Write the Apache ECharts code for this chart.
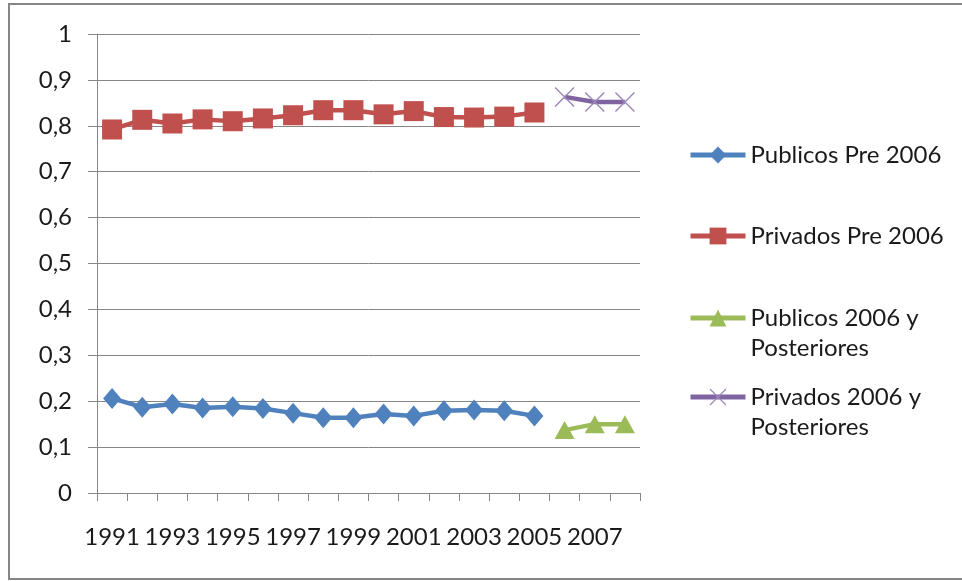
<!DOCTYPE html>
<html>
<head>
<meta charset="utf-8">
<style>
  html, body { margin: 0; padding: 0; background: #ffffff; }
  #chart { width: 962px; height: 581px; }
</style>
<script src="https://cdn.jsdelivr.net/npm/echarts@6/dist/echarts.min.js"></script>
</head>
<body>
<div id="chart"></div>
<script>
// Years on the category axis
const years = ['1991','1992','1993','1994','1995','1996','1997','1998','1999',
               '2000','2001','2002','2003','2004','2005','2006','2007','2008'];

// Share of public and private, before 2006 (1991–2005)
const publicosPre = [0.206, 0.187, 0.194, 0.185, 0.188, 0.184, 0.174, 0.164, 0.164,
                     0.172, 0.168, 0.179, 0.181, 0.179, 0.168];
const privadosPre = [0.792, 0.813, 0.805, 0.814, 0.810, 0.816, 0.823, 0.834, 0.834,
                     0.825, 0.832, 0.819, 0.818, 0.820, 0.829];

// Share from 2006 onwards (2006–2008)
const publicosPost = [0.137, 0.150, 0.150];
const privadosPost = [0.863, 0.852, 0.852];

const seriesNames = ['Publicos Pre 2006', 'Privados Pre 2006',
                     'Publicos 2006 y\nPosteriores', 'Privados 2006 y\nPosteriores'];

const yTicks = { min: 0, max: 1, step: 0.1 };

// Place each segment on the full year axis, leaving the other years empty
const nPre = publicosPre.length;
const pad = (n) => Array.from({ length: n }, () => null);
const onPre = (vals) => vals.concat(pad(years.length - vals.length));
const onPost = (vals) => pad(nPre).concat(vals);

const FONT = 'Lato';
const FS = 24;
const GRAY = '#868686';
const TXT = '#1a1a1a';
const crossPath = 'path://M0,1L1,0L20,19L19,20Z M19,0L20,1L1,20L0,19Z';

const chart = echarts.init(document.getElementById('chart'), null, { renderer: 'canvas' });

// One legend block per series; two-line names get a leading blank line so
// that their first line sits level with the icon.
function legendItem(name, centerY, twoLines) {
  const ts = { fontFamily: FONT, fontSize: FS, color: TXT, lineHeight: 30 };
  return {
    orient: 'vertical',
    left: 688,
    top: twoLines ? centerY - 45 : centerY - 15,
    padding: 0,
    itemWidth: 55,
    itemHeight: 21,
    itemGap: 0,
    selectedMode: false,
    formatter: twoLines ? (n) => ' \n' + n : (n) => n,
    lineStyle: { width: 5 },
    data: [{ name: name }],
    textStyle: ts
  };
}

const option = {
  backgroundColor: '#ffffff',
  animation: false,
  graphic: [{
    type: 'rect',
    shape: { x: 9, y: 4, width: 1000, height: 575 },
    style: { fill: 'none', stroke: GRAY, lineWidth: 2 },
    silent: true
  }],
  grid: { left: 97, right: 322, top: 34, bottom: 88 },
  legend: [
    legendItem(seriesNames[0], 155, false),
    legendItem(seriesNames[1], 236, false),
    legendItem(seriesNames[2], 318, true),
    legendItem(seriesNames[3], 397, true)
  ],
  xAxis: {
    type: 'category',
    data: years,
    boundaryGap: true,
    axisLine: { lineStyle: { color: GRAY, width: 1 } },
    axisTick: { show: true, length: 8, alignWithLabel: false, interval: 0, lineStyle: { color: GRAY } },
    axisLabel: {
      interval: 1, hideOverlap: false, margin: 32,
      fontFamily: FONT, fontSize: FS, color: TXT
    },
    splitLine: { show: false }
  },
  yAxis: {
    type: 'value',
    min: yTicks.min, max: yTicks.max, interval: yTicks.step,
    axisLine: { show: true, lineStyle: { color: GRAY, width: 1 } },
    axisTick: { show: true, length: 9, lineStyle: { color: GRAY } },
    axisLabel: {
      margin: 25, fontFamily: FONT, fontSize: FS, color: TXT,
      formatter: (v) => String(Math.round(v * 10) / 10).replace('.', ',')
    },
    splitLine: { show: true, lineStyle: { color: GRAY, width: 1 } }
  },
  series: [
    {
      name: seriesNames[0], type: 'line', data: onPre(publicosPre),
      symbol: 'diamond', symbolSize: [18, 21], showAllSymbol: true,
      lineStyle: { color: '#4F81BD', width: 4.5 },
      itemStyle: { color: '#4F81BD' }
    },
    {
      name: seriesNames[1], type: 'line', data: onPre(privadosPre),
      symbol: 'rect', symbolSize: 20, showAllSymbol: true,
      lineStyle: { color: '#C0504D', width: 4.5 },
      itemStyle: { color: '#C0504D' }
    },
    {
      name: seriesNames[2], type: 'line', data: onPost(publicosPost),
      symbol: 'triangle', symbolSize: [20, 18], showAllSymbol: true,
      lineStyle: { color: '#9BBB59', width: 4.5 },
      itemStyle: { color: '#9BBB59' }
    },
    {
      name: seriesNames[3], type: 'line', data: onPost(privadosPost),
      symbol: crossPath, symbolSize: 20, showAllSymbol: true,
      lineStyle: { color: '#8064A2', width: 4.5 },
      itemStyle: { color: '#9C86BA' }
    }
  ]
};

chart.setOption(option);
</script>
</body>
</html>
